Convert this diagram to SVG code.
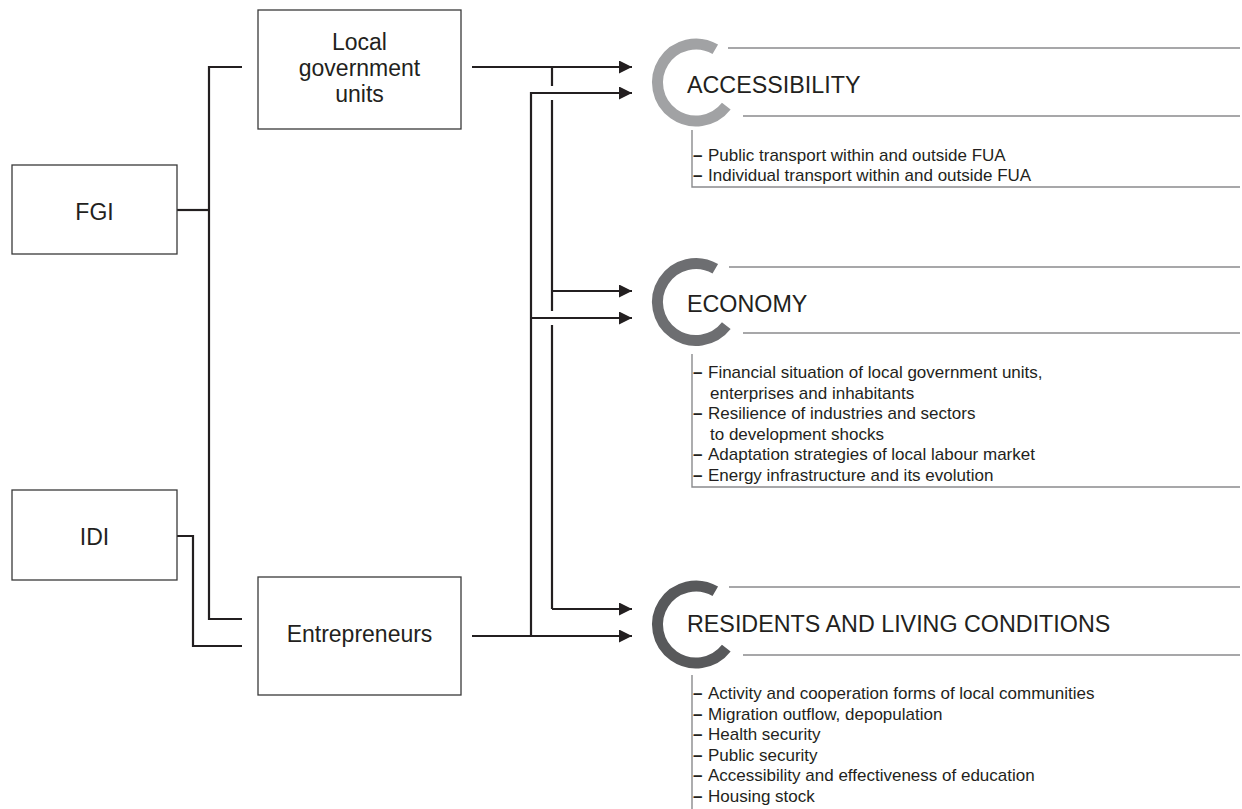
<svg xmlns="http://www.w3.org/2000/svg" width="1242" height="809" viewBox="0 0 1242 809">
<style>
.box{fill:#fff;stroke:#3a3a3a;stroke-width:1.3}
.lbl{font-family:"Liberation Sans",Arial,sans-serif;font-size:23px;fill:#231f20;text-anchor:middle}
.con{fill:none;stroke:#231f20;stroke-width:2.2}
.title{font-family:"Liberation Sans",Arial,sans-serif;font-size:23.3px;fill:#231f20}
.item{font-family:"Liberation Sans",Arial,sans-serif;font-size:17px;fill:#231f20}
.d{font-weight:bold}
.rule{fill:none;stroke:#8a8b8d;stroke-width:1.4}
.arc{fill:none;stroke-width:11}
</style>
<defs>
<marker id="ah" markerUnits="userSpaceOnUse" markerWidth="14" markerHeight="14" refX="13" refY="6.5" orient="auto">
<path d="M0,0 L13,6.5 L0,13 z" fill="#231f20"/>
</marker>
</defs>
<rect width="1242" height="809" fill="#fff"/>

<g id="connectors">
<path class="con" d="M242,67 H209 V619 H242"/>
<path class="con" d="M177,210 H209"/>
<path class="con" d="M177,536 H193 V646 H242"/>
<path class="con" d="M472,67 H632" marker-end="url(#ah)"/>
<path class="con" d="M552,67 V86 M552,100 V311 M552,325 V609"/>
<path class="con" d="M552,291 H632" marker-end="url(#ah)"/>
<path class="con" d="M552,609 H632" marker-end="url(#ah)"/>
<path class="con" d="M472,636 H632" marker-end="url(#ah)"/>
<path class="con" d="M531,636 V93 H632" marker-end="url(#ah)"/>
<path class="con" d="M531,318 H632" marker-end="url(#ah)"/>
</g>

<g id="fgi">
<rect class="box" x="12" y="165" width="165" height="89"/>
<text class="lbl" x="94.5" y="220">FGI</text>
</g>
<g id="idi">
<rect class="box" x="12" y="490" width="165" height="90"/>
<text class="lbl" x="94.5" y="545">IDI</text>
</g>
<g id="lgu">
<rect class="box" x="258" y="10" width="203" height="119"/>
<text class="lbl" x="359.5" y="50">Local</text>
<text class="lbl" x="359.5" y="76">government</text>
<text class="lbl" x="359.5" y="102">units</text>
</g>
<g id="entrepreneurs">
<rect class="box" x="258" y="577" width="203" height="118"/>
<text class="lbl" x="359.5" y="642">Entrepreneurs</text>
</g>

<g id="accessibility">
<path class="arc" stroke="#a1a2a4" d="M715.3,49.2 A38.5,38.5 0 1 0 726.3,106.2"/>
<text class="title" x="687" y="93">ACCESSIBILITY</text>
<path class="rule" d="M728,48 H1240 M743,116 H1240 M692,130 V187 H1240"/>
<text class="item" x="693" y="161"><tspan class="d">–</tspan><tspan x="708">Public transport within and outside FUA</tspan></text>
<text class="item" x="693" y="181"><tspan class="d">–</tspan><tspan x="708">Individual transport within and outside FUA</tspan></text>
</g>

<g id="economy">
<path class="arc" stroke="#6d6e71" d="M715.3,268.7 A38.5,38.5 0 1 0 726.3,325.7"/>
<text class="title" x="687" y="312">ECONOMY</text>
<path class="rule" d="M729,267 H1240 M743,333 H1240 M692,354 V487 H1240"/>
<text class="item" x="693" y="378"><tspan class="d">–</tspan><tspan x="708">Financial situation of local government units,</tspan></text>
<text class="item" x="710" y="398.6">enterprises and inhabitants</text>
<text class="item" x="693" y="419.2"><tspan class="d">–</tspan><tspan x="708">Resilience of industries and sectors</tspan></text>
<text class="item" x="710" y="439.8">to development shocks</text>
<text class="item" x="693" y="460.4"><tspan class="d">–</tspan><tspan x="708">Adaptation strategies of local labour market</tspan></text>
<text class="item" x="693" y="481"><tspan class="d">–</tspan><tspan x="708">Energy infrastructure and its evolution</tspan></text>
</g>

<g id="residents">
<path class="arc" stroke="#58595b" d="M715.3,591.2 A38.5,38.5 0 1 0 726.3,648.2"/>
<text class="title" x="687" y="632">RESIDENTS AND LIVING CONDITIONS</text>
<path class="rule" d="M729,587 H1240 M743,655 H1240 M692,675 V809"/>
<text class="item" x="693" y="699"><tspan class="d">–</tspan><tspan x="708">Activity and cooperation forms of local communities</tspan></text>
<text class="item" x="693" y="719.6"><tspan class="d">–</tspan><tspan x="708">Migration outflow, depopulation</tspan></text>
<text class="item" x="693" y="740.2"><tspan class="d">–</tspan><tspan x="708">Health security</tspan></text>
<text class="item" x="693" y="760.8"><tspan class="d">–</tspan><tspan x="708">Public security</tspan></text>
<text class="item" x="693" y="781.4"><tspan class="d">–</tspan><tspan x="708">Accessibility and effectiveness of education</tspan></text>
<text class="item" x="693" y="802"><tspan class="d">–</tspan><tspan x="708">Housing stock</tspan></text>
</g>
</svg>
